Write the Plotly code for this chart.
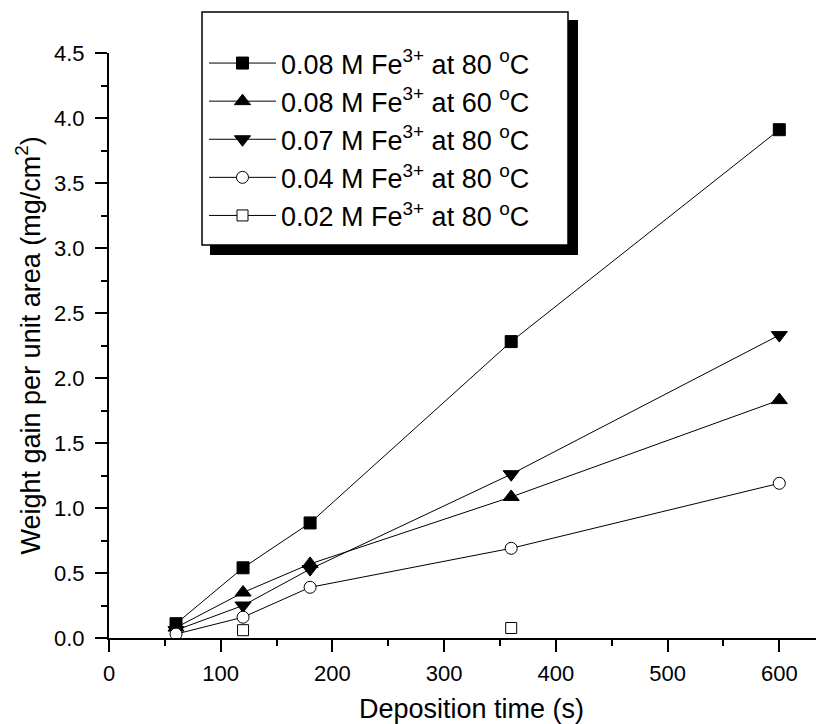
import plotly.graph_objects as go

# ---- data ----
time_s = [60, 120, 180, 360, 600]
s_008_80 = [0.11, 0.54, 0.885, 2.28, 3.91]
s_008_60 = [0.08, 0.35, 0.57, 1.085, 1.83]
s_007_80 = [0.06, 0.25, 0.53, 1.26, 2.33]
s_004_80 = [0.03, 0.16, 0.39, 0.69, 1.19]
s_002_80 = [None, 0.06, None, 0.077, None]

names = [
    "0.08 M Fe<sup>3+</sup> at 80 <sup>o</sup>C",
    "0.08 M Fe<sup>3+</sup> at 60 <sup>o</sup>C",
    "0.07 M Fe<sup>3+</sup> at 80 <sup>o</sup>C",
    "0.04 M Fe<sup>3+</sup> at 80 <sup>o</sup>C",
    "0.02 M Fe<sup>3+</sup> at 80 <sup>o</sup>C",
]
series = [s_008_80, s_008_60, s_007_80, s_004_80, s_002_80]
symbols = ["square", "triangle-up", "triangle-down", "circle", "square"]
fills = ["black", "black", "black", "white", "white"]
sizes = [12, 14, 14, 12, 11]

FONT = "Arial, Liberation Sans, sans-serif"

fig = go.Figure()
for nm, ys, sym, fc, sz in zip(names, series, symbols, fills, sizes):
    fig.add_trace(go.Scatter(
        x=time_s, y=ys, name=nm, mode="lines+markers",
        connectgaps=False,
        line=dict(color="black", width=1),
        marker=dict(symbol=sym, size=sz, color=fc,
                    line=dict(color="black", width=1)),
    ))

# page has an 8px body margin; figure coordinates = page - 8
W, H = 816, 716
L, R, T, B = 101, 0, 45, 86
pw = W - L - R
ph = H - T - B
PB = H - B  # plot bottom in figure px


def px(fx):
    return (fx - L) / pw


def py(fy):
    return (PB - fy) / ph


fig.update_layout(
    width=W, height=H,
    margin=dict(l=L, r=R, t=T, b=B),
    paper_bgcolor="white", plot_bgcolor="white",
    font=dict(family=FONT, color="black", size=22),
    showlegend=True,
    legend=dict(
        x=px(196), y=py(31),
        xanchor="left", yanchor="top",
        bgcolor="rgba(0,0,0,0)", borderwidth=0,
        font=dict(family=FONT, size=27, color="black"),
        itemwidth=67,
    ),
    xaxis=dict(
        range=[0, 640], showgrid=False, zeroline=False,
        showline=True, linecolor="black", linewidth=2,
        ticks="outside", ticklen=12, tickwidth=2, tickcolor="black",
        tick0=0, dtick=100, ticklabelstandoff=3,
        tickfont=dict(family=FONT, size=22),
        minor=dict(ticks="outside", ticklen=6, tickwidth=2, tickcolor="black", dtick=50, showgrid=False),
    ),
    yaxis=dict(
        range=[0, 4.5], showgrid=False, zeroline=False,
        showline=True, linecolor="black", linewidth=2,
        ticks="outside", ticklen=12, tickwidth=2, tickcolor="black",
        tick0=0, dtick=0.5, tickformat=".1f", ticklabelstandoff=6,
        tickfont=dict(family=FONT, size=22),
        minor=dict(ticks="outside", ticklen=6, tickwidth=2, tickcolor="black", dtick=0.25, showgrid=False),
    ),
    shapes=[
        dict(type="rect", xref="paper", yref="paper",
             x0=px(202), x1=px(570), y0=py(247), y1=py(12),
             fillcolor="black", line=dict(width=0), layer="above"),
        dict(type="rect", xref="paper", yref="paper",
             x0=px(194), x1=px(560), y0=py(237), y1=py(4),
             fillcolor="white", line=dict(color="black", width=1.5), layer="above"),
    ],
    annotations=[
        dict(text="Deposition time (s)", xref="paper", yref="paper",
             x=px(463), y=py(701),
             xanchor="center", yanchor="middle", showarrow=False,
             font=dict(family=FONT, size=27)),
        dict(text="Weight gain per unit area (mg/cm<sup>2</sup>)", xref="paper", yref="paper",
             x=0, y=0.5, xshift=20 - L, textangle=-90,
             xanchor="center", yanchor="middle", showarrow=False,
             font=dict(family=FONT, size=27)),
    ],
)

fig.write_html("out.html")
